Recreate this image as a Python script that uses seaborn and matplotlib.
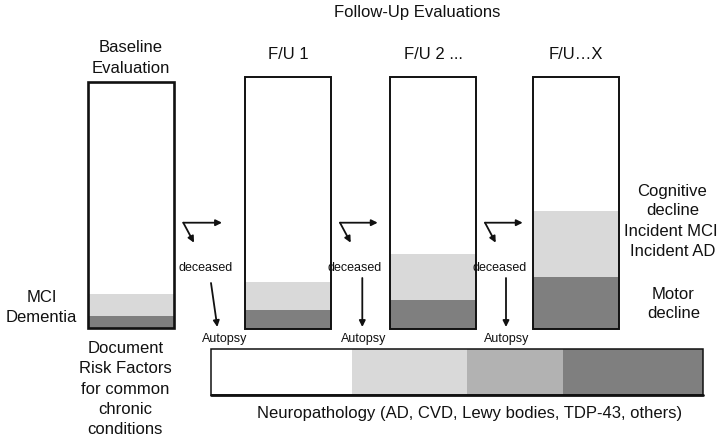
import matplotlib
matplotlib.use("Agg")
import matplotlib.pyplot as plt
import seaborn as sns

# --- data ---
stages = ["Baseline\nEvaluation", "F/U 1", "F/U 2 ...", "F/U\u2026X"]
motor_pct = [4.9, 7.5, 11.5, 20.6]       # dark segment, % of box height
cognitive_pct = [9.0, 11.1, 18.2, 26.1]  # light segment, % of box height

neuro_parts = ["none", "AD/CVD", "Lewy", "TDP-43/others"]
neuro_pct = [28.6, 23.5, 19.5, 28.4]     # share of the neuropathology bar
neuro_colors = ["white", "#d9d9d9", "#b2b2b2", "#7f7f7f"]

LIGHT = "#d9d9d9"
DARK = "#7f7f7f"

# --- layout (pixel units, origin bottom-left) ---
box_left = [88, 245, 390, 533]
box_width = 86
box_bottom = [114, 113, 113, 113]
box_top = [360, 365, 365, 365]
box_lw = [1.9, 1.4, 1.4, 1.4]
label_y = [[394, 373.5], [387.5], [387.5], [387.5]]

sns.set_theme(style="white")
plt.rcParams["font.family"] = ["Liberation Sans", "DejaVu Sans"]

fig = plt.figure(figsize=(7.23, 4.42), dpi=100)
ax = fig.add_axes([0, 0, 1, 1])
ax.set_xlim(0, 723)
ax.set_ylim(0, 442)
ax.axis("off")

big = 12
small = 9

# evaluation boxes
for i, name in enumerate(stages):
    h = box_top[i] - box_bottom[i]
    dark_h = h * motor_pct[i] / 100
    light_h = h * cognitive_pct[i] / 100
    ax.bar(box_left[i], dark_h, width=box_width, bottom=box_bottom[i],
           align="edge", color=DARK, linewidth=0)
    ax.bar(box_left[i], light_h, width=box_width, bottom=box_bottom[i] + dark_h,
           align="edge", color=LIGHT, linewidth=0)
    ax.bar(box_left[i], h, width=box_width, bottom=box_bottom[i],
           align="edge", fill=False, edgecolor="#111111", linewidth=box_lw[i])
    cx = box_left[i] + box_width / 2
    lines = name.split("\n")
    for line, y in zip(lines, label_y[i]):
        ax.text(cx, y, line, ha="center", va="center", fontsize=big, color="#111111")

ax.text(417.5, 429, "Follow-Up Evaluations", ha="center", va="center",
        fontsize=big, color="#111111")

# neuropathology bar
nb_left, nb_right, nb_bottom, nb_top = 211, 703, 47, 93
nb_w = nb_right - nb_left
left = nb_left
for part, pct, col in zip(neuro_parts, neuro_pct, neuro_colors):
    w = nb_w * pct / 100
    ax.barh(nb_bottom, w, height=nb_top - nb_bottom, left=left, align="edge",
            color=col, linewidth=0)
    left += w
ax.barh(nb_bottom, nb_w, height=nb_top - nb_bottom, left=nb_left, align="edge",
        fill=False, edgecolor="#111111", linewidth=1.1)
ax.plot([nb_left, nb_right], [nb_bottom, nb_bottom], color="#111111", lw=2)
ax.text(469.5, 28.5, "Neuropathology (AD, CVD, Lewy bodies, TDP-43, others)",
        ha="center", va="center", fontsize=big, color="#111111")

# arrows between evaluations
arrow_kw = dict(arrowstyle="-|>", color="#111111", lw=1.3, mutation_scale=9,
                shrinkA=0, shrinkB=0)
corners = [(183.3, 219.3), (340, 219.3), (485, 219.3)]
horiz_end = [222, 377.7, 522.7]
deceased_x = [206, 354.5, 500]
down_start = [(211, 159), (362.3, 164), (506, 164)]
down_end = [(217.3, 115), (362.3, 115), (506, 115)]
autopsy_x = [225, 364, 506.7]

for i in range(3):
    cx, cy = corners[i]
    ax.annotate("", xy=(horiz_end[i], cy), xytext=(cx, cy), arrowprops=arrow_kw)
    ax.annotate("", xy=(cx + 10.7, cy - 20), xytext=(cx, cy), arrowprops=arrow_kw)
    ax.text(deceased_x[i], 174.3, "deceased", ha="center", va="center",
            fontsize=small, color="#111111")
    ax.annotate("", xy=down_end[i], xytext=down_start[i], arrowprops=arrow_kw)
    ax.text(autopsy_x[i], 103, "Autopsy", ha="center", va="center",
            fontsize=small, color="#111111")

# side labels
ax.text(41.5, 145, "MCI", ha="center", va="center", fontsize=big, color="#111111")
ax.text(41.5, 124.3, "Dementia", ha="center", va="center", fontsize=big, color="#111111")

for line, y in zip(["Document", "Risk Factors", "for common", "chronic", "conditions"],
                   [93.7, 73.3, 53, 32.3, 12]):
    ax.text(125.3, y, line, ha="center", va="center", fontsize=big, color="#111111")

for line, x, y in zip(["Cognitive", "decline", "Incident MCI", "Incident AD",
                       "Motor", "decline"],
                      [672.3, 672.3, 670.5, 672.3, 673.3, 673.3],
                      [250.3, 231.3, 211, 190.3, 147.7, 128.3]):
    ax.text(x, y, line, ha="center", va="center", fontsize=big, color="#111111")

fig.savefig("out.png", dpi=100, facecolor="white")
